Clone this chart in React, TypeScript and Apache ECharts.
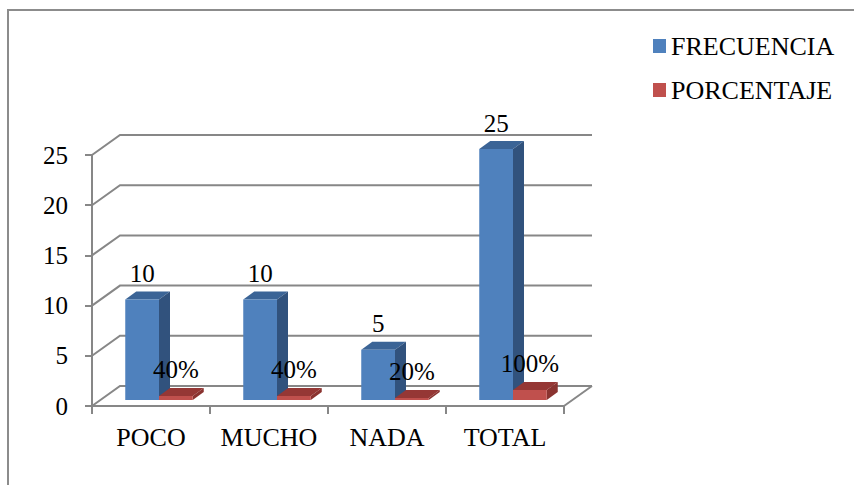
import React, { useEffect, useRef } from 'react';
import * as echarts from 'echarts';

const categories = ['POCO', 'MUCHO', 'NADA', 'TOTAL'];
const frecuencia = [10, 10, 5, 25];
const porcentaje = [0.4, 0.4, 0.2, 1];
const yTicks = [0, 5, 10, 15, 20, 25];
const seriesNames = ['FRECUENCIA', 'PORCENTAJE'];

const FONT = "Times New Roman, Times, Tinos, 'Liberation Serif', 'DejaVu Serif', serif";
const GRID_COLOR = '#878787';
const WALL_DX = 28;
const WALL_DY = -20;
const BAR_SHIFT_X = 8;
const BAR_SHIFT_Y = -6;
const BAR_DX = 11;
const BAR_DY = -8;

const blue = { front: '#4F81BD', top: '#3B6496', side: '#31527D' };
const red = { front: '#C0504D', top: '#953735', side: '#8A3330' };

function bar3d(colors: any, side: number, fmt: (v: number) => string) {
  return (params: any, api: any) => {
    const i = api.value(0);
    const v = api.value(1);
    const c = api.coord([i, v]);
    const b = api.coord([i, 0]);
    const catW = api.size([1, 0])[0];
    const w = catW * 0.286;
    const cx = c[0] + BAR_SHIFT_X;
    const x0 = side === 0 ? cx - w : cx;
    const x1 = x0 + w;
    const yTop = c[1] + BAR_SHIFT_Y;
    const yBot = b[1] + BAR_SHIFT_Y;
    return {
      type: 'group',
      children: [
        {
          type: 'polygon',
          shape: { points: [[x0, yTop], [x1, yTop], [x1 + BAR_DX, yTop + BAR_DY], [x0 + BAR_DX, yTop + BAR_DY]] },
          style: { fill: colors.top },
        },
        {
          type: 'polygon',
          shape: { points: [[x1, yTop], [x1 + BAR_DX, yTop + BAR_DY], [x1 + BAR_DX, yBot + BAR_DY], [x1, yBot]] },
          style: { fill: colors.side },
        },
        {
          type: 'rect',
          shape: { x: x0, y: yTop, width: w, height: yBot - yTop },
          style: { fill: colors.front },
        },
        {
          type: 'text',
          style: {
            text: fmt(v),
            x: (x0 + x1) / 2,
            y: yTop - 26,
            align: 'center',
            verticalAlign: 'middle',
            fontFamily: FONT,
            fontSize: 25,
            fill: '#000',
          },
          z2: 10,
        },
      ],
    };
  };
}

function gridRender(params: any, api: any) {
  const v = api.value(1);
  const cs = params.coordSys;
  const left = cs.x;
  const right = cs.x + cs.width;
  const y = api.coord([0, v])[1];
  const children: any[] = [
    {
      type: 'polyline',
      shape: { points: [[left, y], [left + WALL_DX, y + WALL_DY], [right + WALL_DX, y + WALL_DY]] },
      style: { stroke: GRID_COLOR, lineWidth: 2, fill: 'none' },
    },
  ];
  if (v === 0) {
    children.push({
      type: 'line',
      shape: { x1: right, y1: y, x2: right + WALL_DX, y2: y + WALL_DY },
      style: { stroke: GRID_COLOR, lineWidth: 2 },
    });
  }
  return { type: 'group', children };
}

export default function App() {
  const ref = useRef<HTMLDivElement>(null);
  useEffect(() => {
    if (!ref.current) return;
    const chart = echarts.init(ref.current, null, { renderer: 'svg' });
    chart.setOption({
      animation: false,
      backgroundColor: '#fff',
      textStyle: { fontFamily: FONT },
      graphic: [
        {
          type: 'rect',
          shape: { x: 8, y: 10, width: 1000, height: 1000 },
          style: { fill: 'none', stroke: '#8c8c8c', lineWidth: 2 },
          silent: true,
        },
      ],
      legend: {
        orient: 'vertical',
        left: 648,
        top: 28,
        itemWidth: 13,
        itemHeight: 14,
        itemGap: 18,
        textStyle: { fontFamily: FONT, fontSize: 26, color: '#000', lineHeight: 26 },
        data: [
          { name: seriesNames[0], icon: 'rect', itemStyle: { color: blue.front } },
          { name: seriesNames[1], icon: 'rect', itemStyle: { color: red.front } },
        ],
      },
      grid: { left: 92, right: 290, top: 155, bottom: 79 },
      xAxis: {
        type: 'category',
        data: categories,
        axisLine: { lineStyle: { color: GRID_COLOR, width: 2 } },
        axisTick: { show: true, length: 8, lineStyle: { color: GRID_COLOR, width: 2 } },
        axisLabel: { interval: 0, fontFamily: FONT, fontSize: 26, color: '#000', margin: 18 },
        splitLine: { show: false },
      },
      yAxis: {
        type: 'value',
        min: 0,
        max: 25,
        interval: 5,
        axisLine: { show: true, lineStyle: { color: GRID_COLOR, width: 2 } },
        axisTick: { show: true, length: 7, lineStyle: { color: GRID_COLOR, width: 2 } },
        axisLabel: { fontFamily: FONT, fontSize: 25, color: '#000', margin: 24 },
        splitLine: { show: false },
      },
      series: [
        {
          type: 'custom',
          name: 'grid',
          silent: true,
          renderItem: gridRender,
          data: yTicks.map((v) => [0, v]),
          z: 1,
        },
        {
          type: 'custom',
          name: seriesNames[0],
          itemStyle: { color: blue.front },
          renderItem: bar3d(blue, 0, (v) => String(v)),
          data: frecuencia.map((v, i) => [i, v]),
          z: 2,
        },
        {
          type: 'custom',
          name: seriesNames[1],
          itemStyle: { color: red.front },
          renderItem: bar3d(red, 1, (v) => `${Math.round(v * 100)}%`),
          data: porcentaje.map((v, i) => [i, v]),
          z: 3,
        },
      ],
    });
    return () => chart.dispose();
  }, []);
  return (
    <div
      ref={ref}
      style={{ position: 'fixed', left: 0, top: 0, width: 854, height: 485 }}
    />
  );
}
